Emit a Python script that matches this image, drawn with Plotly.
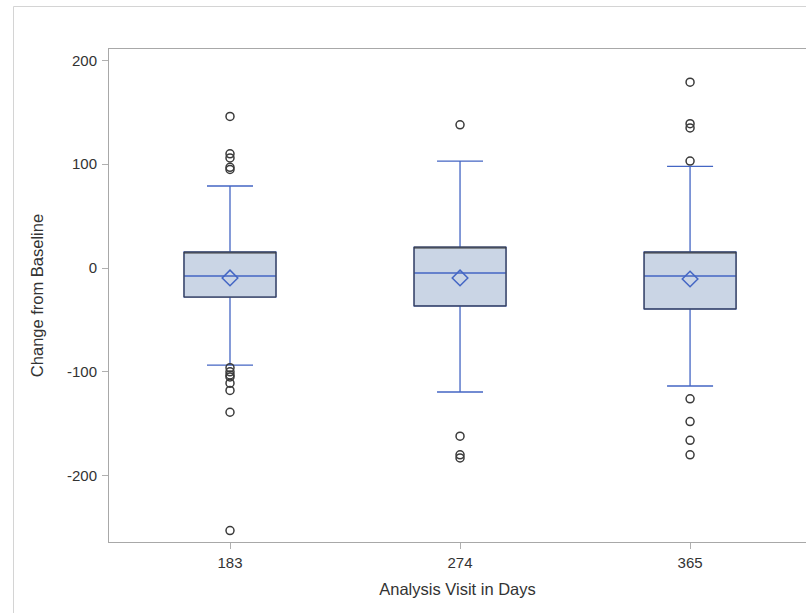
import plotly.graph_objects as go

visits = ["183", "274", "365"]
q1_vals = [-28, -36.6, -39.5]
median_vals = [-7.7, -4.8, -7.7]
q3_vals = [15.4, 20.2, 15.4]
lower_whisker = [-93.5, -119.5, -113.7]
upper_whisker = [79, 103, 98]
mean_vals = [-9.6, -9.6, -10.6]
outliers_183 = [146, 110, 106, 97, 95, -96, -100, -103, -105, -111, -118, -139, -253]
outliers_274 = [138, -162, -180, -183]
outliers_365 = [179, 139, 135, 103, -126, -148, -166, -180]
y_ticks = [-200, -100, 0, 100, 200]
y_tick_text = ["-200", "-100", "0", "100", "200"]

BLUE = "#4466C4"
FILL = "#CAD5E5"
DARK = "#3a3a3a"

fig = go.Figure()

fig.add_trace(go.Box(
    x=visits, q1=q1_vals, median=median_vals, q3=q3_vals,
    lowerfence=lower_whisker, upperfence=upper_whisker,
    width=0.4, whiskerwidth=0.5, boxpoints=False,
    fillcolor=FILL, line=dict(color=BLUE, width=1.3),
    showlegend=False, hoverinfo="skip",
))
fig.add_trace(go.Box(
    x=visits, q1=q1_vals, median=q3_vals, q3=q3_vals,
    lowerfence=q1_vals, upperfence=q3_vals,
    width=0.4, whiskerwidth=0, boxpoints=False,
    fillcolor="rgba(0,0,0,0)", line=dict(color=DARK, width=1),
    showlegend=False, hoverinfo="skip",
))
fig.add_trace(go.Scatter(
    x=visits, y=mean_vals, mode="markers",
    marker=dict(symbol="diamond-open", size=12, color=BLUE, line=dict(width=1.5, color=BLUE)),
    showlegend=False, hoverinfo="skip",
))
ox = []
oy = []
for v, outs in zip(visits, [outliers_183, outliers_274, outliers_365]):
    ox += [v] * len(outs)
    oy += outs
fig.add_trace(go.Scatter(
    x=ox, y=oy, mode="markers",
    marker=dict(symbol="circle-open", size=8, color=DARK, line=dict(width=1.5, color=DARK)),
    showlegend=False, hoverinfo="skip",
))

W, H = 806, 613
L, T, B = 109, 49, 542
pw, ph = W - L, B - T

fig.update_layout(
    width=W, height=H,
    margin=dict(l=L, r=0, t=T, b=H - B, autoexpand=False),
    paper_bgcolor="white", plot_bgcolor="white",
    boxmode="overlay",
    font=dict(family="Liberation Sans, Arial, sans-serif", color="#333333", size=15),
    shapes=[dict(type="rect", xref="paper", yref="paper",
                 x0=(13.5 - L) / pw, x1=1.2,
                 y0=-0.3, y1=(B - 6.5) / ph,
                 line=dict(color="#d4d4d4", width=1), layer="below")],
)
fig.update_xaxes(
    type="category", categoryorder="array", categoryarray=visits,
    range=[-0.526, 2.504],
    showline=True, linecolor="#a8a8a8", linewidth=1, mirror=True,
    ticks="outside", ticklen=6, tickcolor="#b0b0b0",
    showgrid=False, zeroline=False, automargin=False,
    tickfont=dict(size=15), ticklabelstandoff=1,
    title=dict(text="Analysis Visit in Days", font=dict(size=16.5), standoff=13),
)
fig.update_yaxes(
    range=[-264, 211], tickvals=y_ticks, ticktext=y_tick_text,
    showline=True, linecolor="#a8a8a8", linewidth=1,
    ticks="outside", ticklen=6, tickcolor="#b0b0b0",
    showgrid=False, zeroline=False, automargin=False,
    tickfont=dict(size=15), ticklabelstandoff=2,
    title=dict(text="Change from Baseline", font=dict(size=16.5), standoff=19),
)

fig.write_html("out.html", config={"displayModeBar": False},
               post_script="document.body.style.margin='0px';")
